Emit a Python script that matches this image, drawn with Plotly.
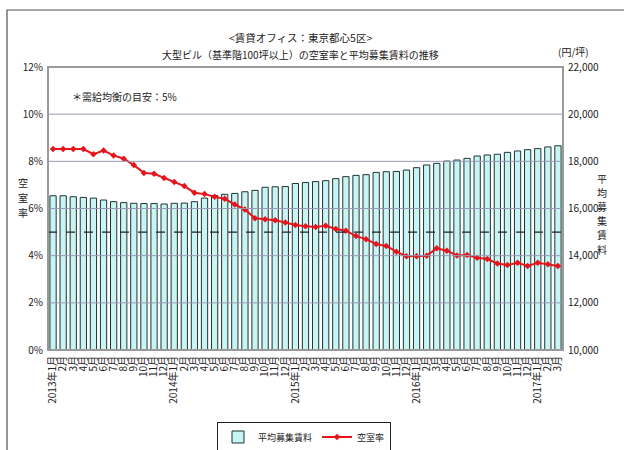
import plotly.graph_objects as go

years = [2013, 2014, 2015, 2016, 2017]
months = []
tick_labels = []
for y in years:
    for m in range(1, 13):
        if y == 2017 and m > 3:
            break
        months.append(f"{y}年{m}月")
        tick_labels.append(f"{y}年{m}月" if m == 1 else f"{m}月")

rent = [16540, 16540, 16500, 16470, 16440, 16360, 16290, 16250, 16220, 16210,
        16210, 16190, 16220, 16230, 16290, 16440, 16550, 16600, 16640, 16710,
        16770, 16900, 16920, 16930, 17060, 17100, 17140, 17180, 17265, 17350,
        17405, 17435, 17530, 17560, 17570, 17630, 17730, 17845, 17915, 18010,
        18055, 18125, 18225, 18270, 18300, 18380, 18440, 18495, 18540, 18610,
        18660]

vacancy = [8.52, 8.52, 8.52, 8.52, 8.30, 8.46, 8.25, 8.11, 7.84, 7.51,
           7.47, 7.29, 7.12, 6.95, 6.67, 6.61, 6.50, 6.41, 6.17, 5.96,
           5.59, 5.54, 5.50, 5.41, 5.30, 5.25, 5.22, 5.27, 5.13, 5.06,
           4.83, 4.70, 4.49, 4.41, 4.17, 3.98, 3.98, 4.00, 4.31, 4.21,
           4.01, 4.03, 3.91, 3.86, 3.67, 3.60, 3.70, 3.56, 3.70, 3.64,
           3.56]

rent_ticks = [10000, 12000, 14000, 16000, 18000, 20000, 22000]
vac_ticks = [0, 2, 4, 6, 8, 10, 12]
balance_line = 5

FONT = "Noto Sans CJK JP"

# plot-area pixel geometry (for placing text in paper coords)
L, R, T, B = 48, 563, 67, 350
def px(x):
    return (x - L) / (R - L)
def py(y):
    return (B - y) / (B - T)

fig = go.Figure()
fig.add_trace(go.Bar(
    x=months, y=rent, name="平均募集賃料", yaxis="y",
    marker=dict(color="#c8f4f4", line=dict(color="#1c3434", width=1)),
))
fig.add_trace(go.Scatter(
    x=months, y=vacancy, name="空室率", yaxis="y2", mode="lines+markers",
    line=dict(color="#e8141c", width=2),
    marker=dict(color="#e8141c", size=5, symbol="diamond"),
))

shapes = []
for v in vac_ticks[1:-1]:
    shapes.append(dict(type="line", xref="paper", x0=0, x1=1, yref="y2", y0=v, y1=v,
                       line=dict(color="#9a9ab4", width=1), layer="above"))
shapes.append(dict(type="line", xref="paper", x0=0, x1=1, yref="y2",
                   y0=balance_line, y1=balance_line,
                   line=dict(color="#202020", width=1.2, dash="dash"), layer="above"))
shapes.append(dict(type="rect", xref="paper", yref="paper", x0=0, x1=1, y0=0, y1=1,
                   line=dict(color="#9a9a9a", width=2), layer="above"))
shapes.append(dict(type="rect", xref="paper", yref="paper", x0=px(7), x1=px(660),
                   y0=py(500), y1=py(10), line=dict(color="#505050", width=1.2),
                   layer="below"))

annotations = [
    dict(text="<賃貸オフィス：東京都心5区>", xref="paper", yref="paper",
         x=px(300), y=py(28), showarrow=False, font=dict(size=10.5)),
    dict(text="大型ビル（基準階100坪以上）の空室率と平均募集賃料の推移", xref="paper",
         yref="paper", x=px(300), y=py(45), showarrow=False, font=dict(size=10)),
    dict(text="(円/坪)", xref="paper", yref="paper", x=px(591),
         y=py(42), showarrow=False, font=dict(size=10)),
    dict(text="＊需給均衡の目安：5%", xref="paper", yref="paper",
         x=px(70), xanchor="left", y=py(87), showarrow=False, font=dict(size=10)),
]
for i, ch in enumerate("空室率"):
    annotations.append(dict(text=ch, xref="paper", yref="paper", x=px(16),
                            y=py(182 + 15 * i), showarrow=False, font=dict(size=10)))
for i, ch in enumerate("平均募集賃料"):
    annotations.append(dict(text=ch, xref="paper", yref="paper", x=px(609),
                            y=py(178 + 14.2 * i), showarrow=False, font=dict(size=10)))

fig.update_layout(
    width=624, height=450,
    margin=dict(l=L, r=624 - R, t=T, b=450 - B, autoexpand=False),
    paper_bgcolor="white", plot_bgcolor="white",
    font=dict(family=FONT, size=10, color="#222222"),
    bargap=0.38,
    showlegend=True,
    legend=dict(orientation="h", x=px(304), xanchor="center", y=py(437), yanchor="middle",
                bordercolor="#222222", borderwidth=1, font=dict(size=9),
                itemwidth=30, tracegroupgap=0),
    xaxis=dict(
        type="category", tickmode="array", tickvals=months, ticktext=tick_labels,
        tickangle=-90, tickfont=dict(size=10, family=FONT), showgrid=False,
        ticks="", showline=False, range=[-0.5, len(months) - 0.5],
        ticklabelstandoff=3,
    ),
    yaxis=dict(
        side="right", range=[10000, 22000], tickvals=rent_ticks,
        ticktext=[f"{v:,}" for v in rent_ticks], showgrid=False, zeroline=False,
        tickfont=dict(size=10, family=FONT), ticks="", ticklabelstandoff=4,
    ),
    yaxis2=dict(
        side="left", overlaying="y", range=[0, 12], tickvals=vac_ticks,
        ticktext=[f"{v}%" for v in vac_ticks], showgrid=False, zeroline=False,
        tickfont=dict(size=10, family=FONT), ticks="", ticklabelstandoff=4,
    ),
    shapes=shapes,
    annotations=annotations,
)

fig.write_html("out.html", config={"displayModeBar": False},
               post_script="document.body.style.margin='0px';")
